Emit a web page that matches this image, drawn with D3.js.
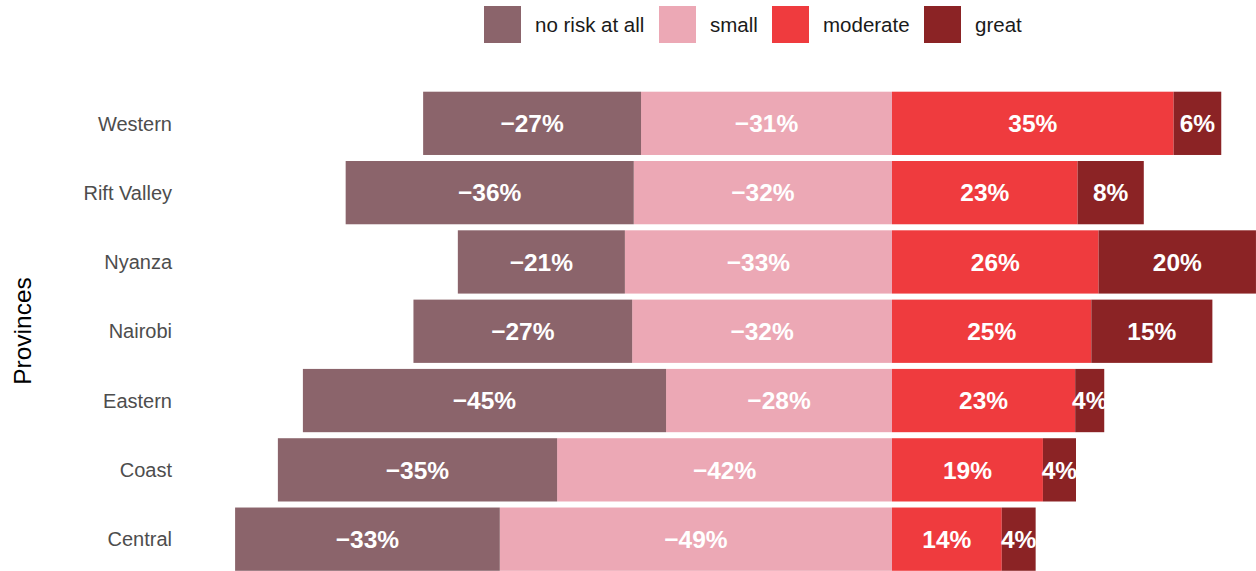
<!DOCTYPE html>
<html>
<head>
<meta charset="utf-8">
<script src="https://cdn.jsdelivr.net/npm/d3@7"></script>
<style>
  body { margin: 0; background: #fff; }
  text { font-family: "Liberation Sans", Arial, sans-serif; }
</style>
</head>
<body>
<div id="chart"></div>
<script>
(function () {
    'use strict';

    // provinces, top to bottom
    var provinces = ['Western', 'Rift Valley', 'Nyanza', 'Nairobi', 'Eastern', 'Coast', 'Central'];
    var levels = ['no risk at all', 'small', 'moderate', 'great'];
    var colors = ['#8B646B', '#ECA8B5', '#EF3B3E', '#8B2325'];

    // percentages (negative side = no risk / small)
    var noRisk   = [27.0, 35.7, 20.7, 27.1, 45.0, 34.6, 32.8];
    var small    = [31.1, 32.0, 33.1, 32.2, 28.0, 41.5, 48.6];
    var moderate = [34.9, 23.0, 25.6, 24.7, 22.7, 18.7, 13.6];
    var great    = [5.9, 8.2, 19.5, 15.0, 3.6, 4.1, 4.2];

    var width = 1256, height = 571;

    var svg = d3.select('#chart').append('svg')
        .attr('width', width)
        .attr('height', height);

    var x = d3.scaleLinear()
        .domain([-50, 50])
        .range([892 - 50 * 8.07, 892 + 50 * 8.07]);

    var y = d3.scaleBand()
        .domain(provinces)
        .range([91.7, 570.8])
        .paddingInner(0.087)
        .paddingOuter(0);

    var color = d3.scaleOrdinal().domain(levels).range(colors);

    // build segments: negatives stacked outward to the left, positives to the right
    var segs = [];
    provinces.forEach(function (p, i) {
        segs.push({ p: p, lvl: levels[1], x0: -small[i], x1: 0, v: -small[i] });
        segs.push({ p: p, lvl: levels[0], x0: -small[i] - noRisk[i], x1: -small[i], v: -noRisk[i] });
        segs.push({ p: p, lvl: levels[2], x0: 0, x1: moderate[i], v: moderate[i] });
        segs.push({ p: p, lvl: levels[3], x0: moderate[i], x1: moderate[i] + great[i], v: great[i] });
    });

    var fmt = d3.format('.0f');

    svg.append('g').selectAll('rect')
        .data(segs)
        .enter().append('rect')
        .attr('x', function (d) { return x(d.x0); })
        .attr('width', function (d) { return x(d.x1) - x(d.x0); })
        .attr('y', function (d) { return y(d.p); })
        .attr('height', y.bandwidth())
        .attr('fill', function (d) { return color(d.lvl); });

    svg.append('g').selectAll('text')
        .data(segs)
        .enter().append('text')
        .attr('x', function (d) { return x((d.x0 + d.x1) / 2); })
        .attr('y', function (d) { return y(d.p) + y.bandwidth() / 2; })
        .attr('dy', '0.36em')
        .attr('text-anchor', 'middle')
        .style('font-size', '24.5px')
        .style('font-weight', 'bold')
        .style('fill', '#fff')
        .text(function (d) { return fmt(d.v) + '%'; });

    // y axis labels
    svg.append('g').selectAll('text')
        .data(provinces)
        .enter().append('text')
        .attr('x', 172)
        .attr('y', function (d) { return y(d) + y.bandwidth() / 2; })
        .attr('dy', '0.36em')
        .attr('text-anchor', 'end')
        .style('font-size', '20px')
        .style('fill', '#4D4D4D')
        .text(function (d) { return d; });

    svg.append('text')
        .attr('transform', 'translate(31,331) rotate(-90)')
        .attr('text-anchor', 'middle')
        .style('font-size', '24.5px')
        .style('fill', '#000')
        .text('Provinces');

    // legend
    var legendX = [484, 659, 772, 924];
    var lg = svg.append('g').selectAll('g')
        .data(levels)
        .enter().append('g')
        .attr('transform', function (d, i) { return 'translate(' + legendX[i] + ',6)'; });

    lg.append('rect')
        .attr('width', 37)
        .attr('height', 37)
        .attr('fill', function (d) { return color(d); });

    lg.append('text')
        .attr('x', 51)
        .attr('y', 18.5)
        .attr('dy', '0.36em')
        .style('font-size', '20.5px')
        .style('fill', '#1A1A1A')
        .text(function (d) { return d; });
})();
</script>
</body>
</html>
